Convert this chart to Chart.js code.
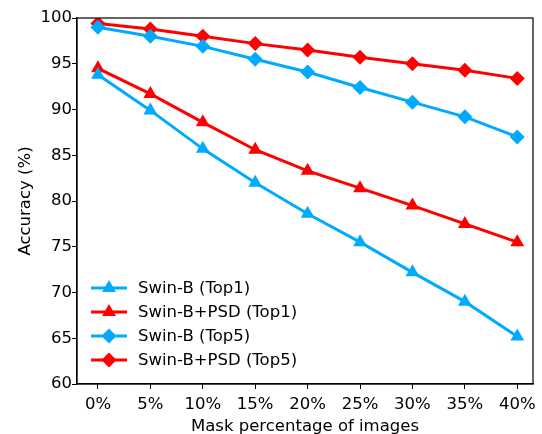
<!DOCTYPE html>
<html>
<head>
<meta charset="utf-8">
<script src="https://cdn.jsdelivr.net/npm/chart.js@4"></script>
<style>
  html, body { margin: 0; padding: 0; background: #fff; }
  #wrap { width: 542px; height: 434px; }
</style>
</head>
<body>
<div id="wrap"><canvas id="accChart" width="542" height="434"></canvas></div>
<script>
// mask levels (%) and accuracy readings
const maskLevels = [0, 5, 10, 15, 20, 25, 30, 35, 40];
const swinTop1 = [93.8, 89.9, 85.7, 82.0, 78.6, 75.5, 72.2, 69.0, 65.2];
const psdTop1 = [94.5, 91.7, 88.6, 85.6, 83.3, 81.4, 79.5, 77.5, 75.5];
const swinTop5 = [99.0, 98.0, 96.9, 95.5, 94.1, 92.4, 90.8, 89.2, 87.0];
const psdTop5 = [99.4, 98.8, 98.0, 97.2, 96.5, 95.7, 95.0, 94.3, 93.4];
const yTicks = [60, 65, 70, 75, 80, 85, 90, 95, 100];

const BLUE = '#00aaff';
const RED = '#ff0000';
const FONT = 'DejaVu Sans';
const FS = 16.5;

function series(label, values, color, shape) {
    return {
        label: label,
        data: values.map((v, i) => ({ x: maskLevels[i], y: v })),
        borderColor: color,
        backgroundColor: color,
        borderWidth: 3,
        pointStyle: shape,
        pointRadius: shape === 'triangle' ? 8 : 7.5,
        pointBorderWidth: 0,
        pointHoverRadius: 8,
        tension: 0
    };
}

// box border + legend drawn inside the plot area
const frameAndLegend = {
    id: 'frameAndLegend',
    afterDraw(chart) {
        const { ctx, chartArea: a } = chart;
        ctx.save();
        ctx.strokeStyle = '#000';
        ctx.lineWidth = 1.2;
        ctx.strokeRect(a.left, a.top, a.right - a.left, a.bottom - a.top);

        ctx.font = FS + 'px "' + FONT + '"';
        ctx.textBaseline = 'middle';
        chart.data.datasets.forEach((ds, i) => {
            const y = 288 + i * 24;
            ctx.strokeStyle = ds.borderColor;
            ctx.lineWidth = ds.borderWidth;
            ctx.beginPath();
            ctx.moveTo(91, y);
            ctx.lineTo(127, y);
            ctx.stroke();
            ctx.fillStyle = ds.backgroundColor;
            Chart.helpers.drawPoint(ctx, { pointStyle: ds.pointStyle, radius: ds.pointRadius, borderWidth: 0 }, 109, y);
            ctx.fillStyle = '#000';
            ctx.fillText(ds.label, 138, y + 1);
        });
        ctx.restore();
    }
};

const ctx = document.getElementById('accChart').getContext('2d');
new Chart(ctx, {
    type: 'line',
    data: {
        datasets: [
            series('Swin-B (Top1)', swinTop1, BLUE, 'triangle'),
            series('Swin-B+PSD (Top1)', psdTop1, RED, 'triangle'),
            series('Swin-B (Top5)', swinTop5, BLUE, 'rectRot'),
            series('Swin-B+PSD (Top5)', psdTop5, RED, 'rectRot')
        ]
    },
    options: {
        responsive: false,
        animation: false,
        layout: { padding: { top: 18, right: 9, left: 0, bottom: 0 } },
        plugins: {
            legend: { display: false },
            tooltip: { enabled: false }
        },
        scales: {
            x: {
                type: 'linear',
                min: -2,
                max: 41.5,
                afterBuildTicks: s => { s.ticks = maskLevels.map(v => ({ value: v })); },
                afterFit: s => { s.height = 50; },
                grid: { drawOnChartArea: false, color: '#000', tickLength: 5 },
                border: { color: '#000', width: 1.2 },
                ticks: {
                    color: '#000',
                    padding: 6,
                    maxRotation: 0,
                    font: { family: FONT, size: FS },
                    callback: v => v + '%'
                },
                title: {
                    display: true,
                    text: 'Mask percentage of images',
                    color: '#000',
                    padding: { top: 0, bottom: -3 },
                    font: { family: FONT, size: FS }
                }
            },
            y: {
                min: 60,
                max: 100,
                afterBuildTicks: s => { s.ticks = yTicks.map(v => ({ value: v })); },
                afterFit: s => { s.width = 77; },
                grid: { drawOnChartArea: false, color: '#000', tickLength: 5 },
                border: { color: '#000', width: 1.2 },
                ticks: {
                    color: '#000',
                    padding: 0,
                    font: { family: FONT, size: FS }
                },
                title: {
                    display: true,
                    text: 'Accuracy (%)',
                    color: '#000',
                    padding: { top: 16, bottom: 0 },
                    font: { family: FONT, size: FS }
                }
            }
        }
    },
    plugins: [frameAndLegend]
});
</script>
</body>
</html>
